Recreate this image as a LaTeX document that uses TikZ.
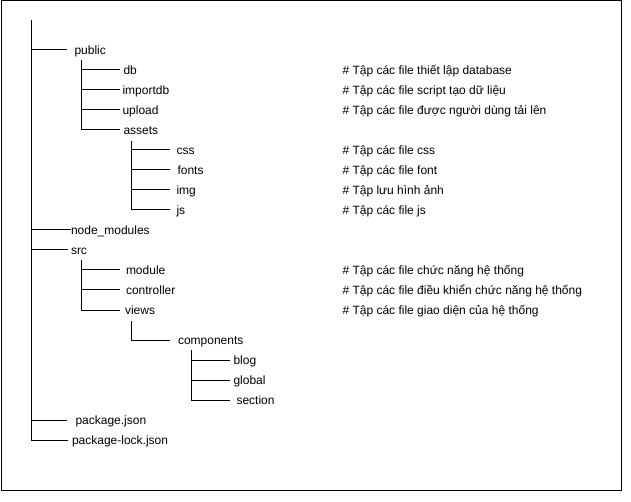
\documentclass[tikz,border=0pt]{standalone}
\usepackage{fontspec}
\setmainfont{Liberation Sans}
\usetikzlibrary{positioning}

\begin{document}
\begin{tikzpicture}[x=1pt,y=-1pt,line width=1pt,
	item/.style={anchor=west,inner sep=0pt,text height=8.6pt,text depth=0pt,font=\fontsize{12}{14}\selectfont},
	note/.style={item},
	leaf/.style={shorten >=#1},leaf/.default=3pt]
	\useasboundingbox (0,0) rectangle (631,502);
	\draw (1,1) rectangle (621,490.5);
	% tops of the vertical lines
	\coordinate (root) at (31,20);
	\coordinate (pubtop) at (81,60);
	\coordinate (asstop) at (131,141);
	\coordinate (srctop) at (81,260);
	\coordinate (viewtop) at (131,321);
	\coordinate (comptop) at (191,350);
	% folders and files
	\node[item] (public) at (74,50) {public};
	\node[item] (db) at (123,70) {db};
	\node[item] (importdb) at (122,90) {importdb};
	\node[item] (upload) at (122,110) {upload};
	\node[item] (assets) at (123,130) {assets};
	\node[item] (css) at (176,150) {css};
	\node[item] (fonts) at (177,170) {fonts};
	\node[item] (img) at (176,190) {img};
	\node[item] (js) at (176,210) {js};
	\node[item] (nodemod) at (70.5,230) {node\_modules};
	\node[item] (src) at (70.5,250) {src};
	\node[item] (module) at (125.5,270) {module};
	\node[item] (controller) at (125.5,290) {controller};
	\node[item] (views) at (124.5,310) {views};
	\node[item] (components) at (177.5,340) {components};
	\node[item] (blog) at (233,360) {blog};
	\node[item] (global) at (233,380) {global};
	\node[item] (section) at (236,400) {section};
	\node[item] (pkg) at (75,420) {package.json};
	\node[item] (pkglock) at (71.5,440) {package-lock.json};
	% comments
	\node[note] (dbnote) at (342,70) {\# Tập các file thiết lập database};
	\node[note] (importnote) at (342,90) {\# Tập các file script tạo dữ liệu};
	\node[note] (uploadnote) at (342,110) {\# Tập các file được người dùng tải lên};
	\node[note] (cssnote) at (342,150) {\# Tập các file css};
	\node[note] (fontnote) at (342,170) {\# Tập các file font};
	\node[note] (imgnote) at (342,190) {\# Tập lưu hình ảnh};
	\node[note] (jsnote) at (342,210) {\# Tập các file js};
	\node[note] (modnote) at (342,270) {\# Tập các file chức năng hệ thống};
	\node[note] (ctrlnote) at (342,290) {\# Tập các file điều khiển chức năng hệ thống};
	\node[note] (viewnote) at (342,310) {\# Tập các file giao diện của hệ thống};
	% branches
	\draw[leaf=7pt] (root) |- (public.west);
	\draw (root) |- (nodemod.west);
	\draw[leaf] (root) |- (src.west);
	\draw[leaf=8pt] (root) |- (pkg.west);
	\draw[leaf=4pt] (root) |- (pkglock.west);
	\draw[leaf] (pubtop) |- (db.west);
	\draw[leaf=2pt] (pubtop) |- (importdb.west);
	\draw[leaf=2pt] (pubtop) |- (upload.west);
	\draw[leaf] (pubtop) |- (assets.west);
	\draw[leaf=6pt] (asstop) |- (css.west);
	\draw[leaf=7pt] (asstop) |- (fonts.west);
	\draw[leaf=6pt] (asstop) |- (img.west);
	\draw[leaf=6pt] (asstop) |- (js.west);
	\draw[leaf=5.5pt] (srctop) |- (module.west);
	\draw[leaf=5.5pt] (srctop) |- (controller.west);
	\draw[leaf=4.5pt] (srctop) |- (views.west);
	\draw[leaf=7.5pt] (viewtop) |- (components.west);
	\draw[leaf] (comptop) |- (blog.west);
	\draw[leaf] (comptop) |- (global.west);
	\draw[leaf=6pt] (comptop) |- (section.west);
\end{tikzpicture}
\end{document}
